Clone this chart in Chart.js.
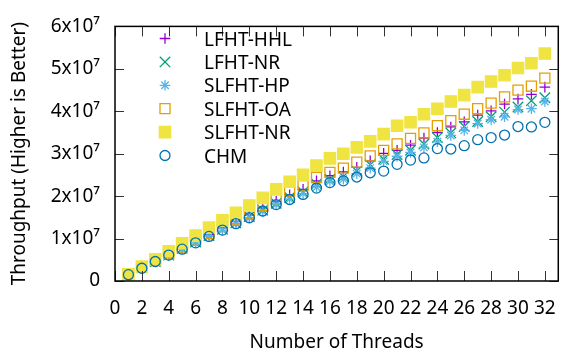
<!DOCTYPE html>
<html>
<head>
<meta charset="utf-8">
<script src="https://cdn.jsdelivr.net/npm/chart.js@4/dist/chart.umd.min.js"></script>
<style>
  html, body { margin: 0; padding: 0; background: #fff; }
  #wrap { width: 572px; height: 356px; position: relative; }
</style>
</head>
<body>
<div id="wrap"><canvas id="chart" width="572" height="356"></canvas></div>
<script>
// values, in units of 1x10^7 ops
const UNIT = 1e7;
const threads = [1,2,3,4,5,6,7,8,9,10,11,12,13,14,15,16,17,18,19,20,21,22,23,24,25,26,27,28,29,30,31,32];

const lfhtHHL = [0.16,0.31,0.47,0.62,0.78,0.94,1.09,1.25,1.40,1.55,1.72,1.88,2.03,2.16,2.36,2.48,2.57,2.68,2.83,3.01,3.08,3.20,3.37,3.50,3.63,3.75,3.91,4.01,4.17,4.29,4.40,4.57];
const lfhtNR  = [0.16,0.31,0.46,0.61,0.77,0.92,1.07,1.22,1.37,1.52,1.67,1.83,1.97,2.10,2.29,2.40,2.46,2.59,2.74,2.87,2.98,3.08,3.23,3.38,3.49,3.64,3.76,3.87,3.98,4.10,4.25,4.32];
const slfhtHP = [0.15,0.30,0.45,0.60,0.75,0.90,1.05,1.20,1.35,1.49,1.64,1.80,1.93,2.06,2.21,2.35,2.40,2.53,2.66,2.82,2.94,3.03,3.15,3.28,3.43,3.55,3.71,3.80,3.87,4.04,4.06,4.23];
const slfhtOA = [0.16,0.32,0.48,0.64,0.80,0.96,1.12,1.28,1.44,1.58,1.78,1.94,2.12,2.25,2.44,2.56,2.66,2.80,2.95,3.08,3.23,3.36,3.49,3.66,3.78,3.93,4.06,4.19,4.34,4.50,4.59,4.78];
const slfhtNR = [0.16,0.34,0.51,0.70,0.89,1.07,1.26,1.43,1.61,1.78,1.96,2.16,2.34,2.50,2.72,2.89,3.00,3.15,3.29,3.46,3.66,3.74,3.93,4.06,4.23,4.38,4.57,4.70,4.85,5.02,5.13,5.36];
const chm     = [0.15,0.30,0.46,0.61,0.75,0.90,1.05,1.20,1.35,1.49,1.65,1.80,1.92,2.04,2.19,2.32,2.36,2.45,2.55,2.59,2.75,2.85,2.90,3.12,3.11,3.19,3.33,3.38,3.44,3.64,3.63,3.74];

const xTicks = [0,2,4,6,8,10,12,14,16,18,20,22,24,26,28,30,32];
const yTicks = [0,1,2,3,4,5,6];

const series = [
  { label: 'LFHT-HHL', data: lfhtHHL, color: '#9400D3', style: 'cross',    r: 5.3, fill: false },
  { label: 'LFHT-NR',  data: lfhtNR,  color: '#009E73', style: 'crossRot', r: 7.4, fill: false },
  { label: 'SLFHT-HP', data: slfhtHP, color: '#56B4E9', style: 'star',     r: 5.3, fill: false },
  { label: 'SLFHT-OA', data: slfhtOA, color: '#E69F00', style: 'rect',     r: 7.1, fill: false },
  { label: 'SLFHT-NR', data: slfhtNR, color: '#F0E442', style: 'rect',     r: 8.0, fill: true },
  { label: 'CHM',      data: chm,     color: '#0072B2', style: 'circle',   r: 5.0, fill: false }
];

const FONT = 'Noto Sans';
const $ = id => document.getElementById(id);

// gnuplot style frame, inward ticks and key inside the plot
const frame = {
  id: 'frame',
  afterDraw(chart) {
    const { ctx, chartArea: a, scales: { x, y } } = chart;
    ctx.save();
    ctx.strokeStyle = '#333';
    ctx.lineWidth = 1;
    ctx.beginPath();
    xTicks.forEach(v => {
      const px = Math.round(x.getPixelForValue(v)) + 0.5;
      ctx.moveTo(px, a.bottom); ctx.lineTo(px, a.bottom - 10);
      ctx.moveTo(px, a.top); ctx.lineTo(px, a.top + 10);
    });
    yTicks.forEach(v => {
      const py = Math.round(y.getPixelForValue(v * UNIT)) + 0.5;
      ctx.moveTo(a.left, py); ctx.lineTo(a.left + 9, py);
      ctx.moveTo(a.right, py); ctx.lineTo(a.right - 9, py);
    });
    ctx.stroke();
    ctx.strokeStyle = '#000';
    ctx.lineWidth = 1.5;
    ctx.strokeRect(a.left, a.top, a.right - a.left, a.bottom - a.top);

    // key
    ctx.font = `19px "${FONT}"`;
    ctx.textBaseline = 'alphabetic';
    ctx.textAlign = 'left';
    series.forEach((s, i) => {
      const cy = 38.5 + i * 23.4;
      ctx.fillStyle = s.fill ? s.color : 'rgba(0,0,0,0)';
      ctx.strokeStyle = s.color;
      ctx.lineWidth = 1.3;
      Chart.helpers.drawPoint(ctx, { pointStyle: s.style, radius: s.r, rotation: 0, borderWidth: 1.3 }, 165, cy);
      ctx.fillStyle = '#000';
      ctx.fillText(s.label, 204, cy + 7);
    });
    ctx.restore();
  }
};

new Chart($('chart'), {
  type: 'scatter',
  data: {
    datasets: series.map((s, i) => ({
      label: s.label,
      data: threads.map((t, k) => ({ x: t, y: s.data[k] * UNIT })),
      pointStyle: s.style,
      pointRadius: s.r,
      pointHoverRadius: s.r,
      borderWidth: 1.3,
      borderColor: s.color,
      backgroundColor: s.fill ? s.color : 'rgba(0,0,0,0)',
      showLine: false,
      order: series.length - 1 - i
    }))
  },
  options: {
    responsive: false,
    animation: false,
    devicePixelRatio: 1,
    layout: { padding: { top: 16, right: 1, left: 0, bottom: 0 } },
    plugins: { legend: { display: false }, tooltip: { enabled: false } },
    scales: {
      x: {
        type: 'linear', min: 0, max: 33,
        grid: { display: false, drawTicks: false },
        border: { display: false },
        afterFit: sc => { sc.height = 75; },
        afterBuildTicks: sc => { sc.ticks = xTicks.map(v => ({ value: v })); },
        ticks: { color: '#000', padding: 16, maxRotation: 0, autoSkip: false, font: { family: FONT, size: 19 } },
        title: { display: true, text: 'Number of Threads', color: '#000', padding: { top: 0, bottom: 2 }, font: { family: FONT, size: 19 } }
      },
      y: {
        type: 'linear', min: 0, max: 6 * UNIT,
        grid: { display: false, drawTicks: false },
        border: { display: false },
        afterFit: sc => { sc.width = 115; },
        afterBuildTicks: sc => { sc.ticks = yTicks.map(v => ({ value: v * UNIT })); },
        ticks: {
          color: '#000', padding: 15, font: { family: FONT, size: 19 },
          callback: v => v === 0 ? '0' : (v / UNIT) + 'x10\u2077'
        },
        title: { display: true, text: 'Throughput (Higher is Better)', color: '#000', padding: { top: 8, bottom: 0 }, font: { family: FONT, size: 19 } }
      }
    }
  },
  plugins: [frame]
});
</script>
</body>
</html>
